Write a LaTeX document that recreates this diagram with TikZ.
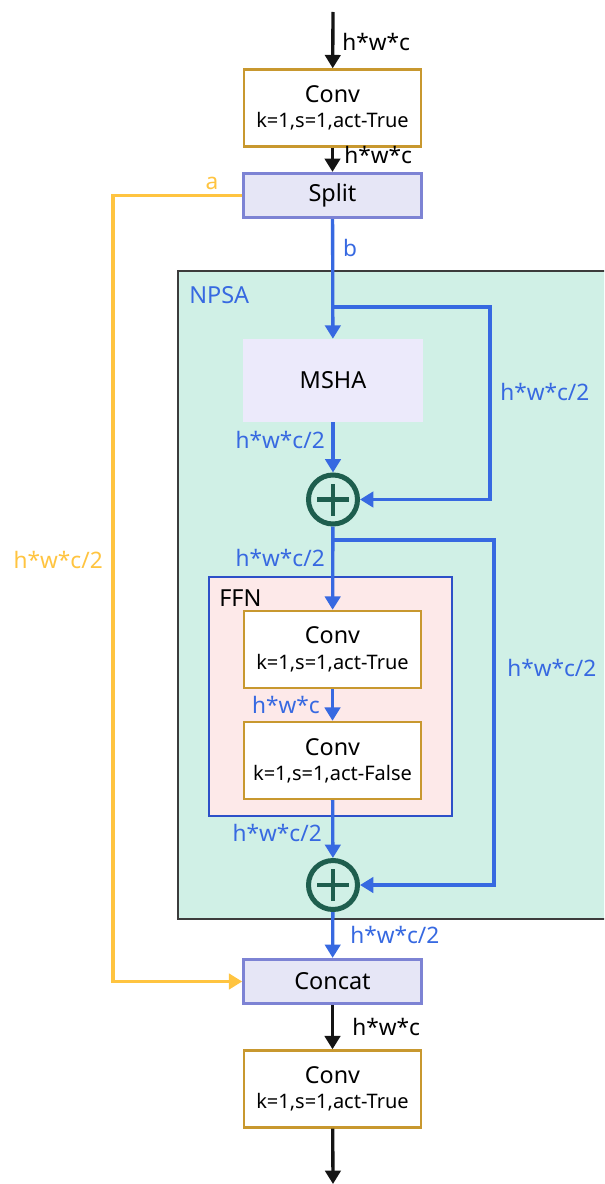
\documentclass[tikz,border=0pt]{standalone}
\usepackage{fontspec}
\setmainfont{Noto Sans}
\usetikzlibrary{arrows.meta}

\definecolor{convgold}{RGB}{200,152,47}
\definecolor{opfill}{RGB}{230,230,246}
\definecolor{opline}{RGB}{125,131,212}
\definecolor{mshafill}{RGB}{236,234,251}
\definecolor{npsafill}{RGB}{208,240,230}
\definecolor{npsaline}{RGB}{60,60,60}
\definecolor{ffnfill}{RGB}{253,233,233}
\definecolor{ffnline}{RGB}{45,80,200}
\definecolor{flowblue}{RGB}{55,105,225}
\definecolor{flowyellow}{RGB}{255,196,64}
\definecolor{addgreen}{RGB}{30,94,78}
\definecolor{flowblack}{RGB}{20,20,20}

\tikzset{
  namefont/.style={font=\fontsize{17.6pt}{21pt}\selectfont},
  convbox/.style={draw=convgold, line width=1.8pt, fill=white, align=center,
    minimum width=133pt, minimum height=57.75pt, inner sep=0pt,
    font=\fontsize{17.5pt}{20pt}\selectfont},
  opbox/.style={draw=opline, line width=2.4pt, fill=opfill, namefont,
    minimum width=133pt, minimum height=33pt, inner sep=0pt},
  mshabox/.style={fill=mshafill, namefont, minimum width=135pt,
    minimum height=62.25pt, inner sep=0pt},
  addnode/.style={circle, draw=addgreen, line width=3.75pt, minimum size=36.75pt,
    inner sep=0pt,
    path picture={\draw[addgreen, line width=3.4pt]
      (path picture bounding box.center) +(-12pt,0) -- +(12pt,0)
      (path picture bounding box.center) +(0,-12pt) -- +(0,12pt);}},
  flowtip/.style={-{Triangle[length=10pt, width=11.5pt]}},
  blackflow/.style={flowtip, draw=flowblack, line width=2.5pt},
  blueflow/.style={flowtip, draw=flowblue, line width=2.5pt},
  yellowflow/.style={flowtip, draw=flowyellow, line width=2.5pt},
  dimlabel/.style={inner sep=0pt, font=\fontsize{17pt}{20pt}\selectfont},
}

\begin{document}
\begin{tikzpicture}[x=0.75pt, y=-0.75pt]
  \clip (0,0) rectangle (604,1184);
  \useasboundingbox (0,0) rectangle (604,1184);

  % NPSA and FFN containers
  \draw[fill=npsafill, draw=npsaline, line width=1.1pt] (178,271) rectangle (640,919);
  \node[anchor=west, text=flowblue, namefont, inner sep=0pt] (npsalabel) at (189,295) {NPSA};
  \draw[fill=ffnfill, draw=ffnline, line width=1.9pt] (209,577) rectangle (452,816);
  \node[anchor=west, namefont, inner sep=0pt] (ffnlabel) at (219,598) {FFN};

  % blocks
  \node[convbox] (conv1) at (332.5,108) {Conv\\[-1pt]{\fontsize{15pt}{18pt}\selectfont k=1,s=1,act-True}};
  \node[opbox] (split) at (332.5,195.5) {Split};
  \node[mshabox] (msha) at (333,380.5) {MSHA};
  \node[addnode] (plus1) at (333,499.5) {};
  \node[convbox] (conv2) at (332.5,649.5) {Conv\\[-1pt]{\fontsize{15pt}{18pt}\selectfont k=1,s=1,act-True}};
  \node[convbox] (conv3) at (332.5,760.5) {Conv\\[-1pt]{\fontsize{15pt}{18pt}\selectfont k=1,s=1,act-False}};
  \node[addnode] (plus2) at (333,885) {};
  \node[opbox] (concat) at (332.5,981.5) {Concat};
  \node[convbox] (conv4) at (332.5,1089) {Conv\\[-1pt]{\fontsize{15pt}{18pt}\selectfont k=1,s=1,act-True}};

  % free ends and bends
  \coordinate (in) at (333,12);
  \coordinate (out) at (333,1184);
  \coordinate (ya) at (113,195.5);
  \coordinate (yb) at (113,981.5);
  \coordinate (b1) at (333,307);
  \coordinate (r1) at (490,307);
  \coordinate (b2) at (333,540);
  \coordinate (r2) at (494,540);

  % main path
  \draw[blackflow] (in) -- (conv1);
  \draw[blackflow] (conv1) -- (split);
  \draw[blueflow] (split) -- (msha);
  \draw[blueflow] (msha) -- (plus1);
  \draw[blueflow] (plus1) -- (conv2);
  \draw[blueflow] (conv2) -- (conv3);
  \draw[blueflow] (conv3) -- (plus2);
  \draw[blueflow] (plus2) -- (concat);
  \draw[blackflow] (concat) -- (conv4);
  \draw[blackflow] (conv4) -- (out);

  % residual branches
  \draw[blueflow] (b1) -- (r1) |- (plus1);
  \draw[blueflow] (b2) -- (r2) |- (plus2);

  % shortcut branch a
  \draw[yellowflow] (split.west) -- (ya) -- (yb) -- (concat.west);

  % tensor sizes
  \node[dimlabel, anchor=west] (d1) at (342,42) {h*w*c};
  \node[dimlabel, anchor=west] (d2) at (344,155) {h*w*c};
  \node[dimlabel, text=flowyellow] (la) at (212,183) {a};
  \node[dimlabel, text=flowblue] (lb) at (350,248) {b};
  \node[dimlabel, anchor=west, text=flowblue] (d3) at (500,392) {h*w*c/2};
  \node[dimlabel, anchor=east, text=flowblue] (d4) at (325,440) {h*w*c/2};
  \node[dimlabel, anchor=east, text=flowblue] (d5) at (325,558) {h*w*c/2};
  \node[dimlabel, anchor=east, text=flowblue] (d6) at (320,705) {h*w*c};
  \node[dimlabel, anchor=west, text=flowblue] (d7) at (507,668) {h*w*c/2};
  \node[dimlabel, anchor=east, text=flowblue] (d8) at (322,833) {h*w*c/2};
  \node[dimlabel, anchor=west, text=flowblue] (d9) at (350,935) {h*w*c/2};
  \node[dimlabel, anchor=west] (d10) at (352,1027) {h*w*c};
  \node[dimlabel, anchor=east, text=flowyellow] (d11) at (103,560) {h*w*c/2};
\end{tikzpicture}
\end{document}
